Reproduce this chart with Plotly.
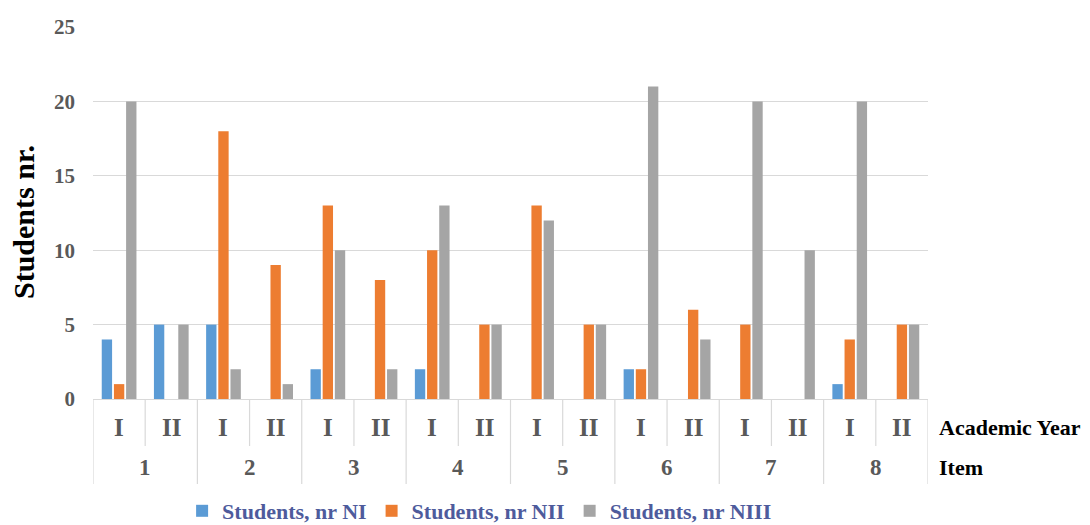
import plotly.graph_objects as go

# Survey counts per item and academic year
items = ["1", "2", "3", "4", "5", "6", "7", "8"]
years = ["I", "II"]

students_ni = [4, 5, 5, 0, 2, 0, 2, 0, 0, 0, 2, 0, 0, 0, 1, 0]
students_nii = [1, 0, 18, 9, 13, 8, 10, 5, 13, 5, 2, 6, 5, 0, 4, 5]
students_niii = [20, 5, 2, 1, 10, 2, 13, 5, 12, 5, 21, 4, 20, 10, 20, 5]

series_names = ["Students, nr NI", "Students, nr NII", "Students, nr NIII"]
series_colors = ["#5B9BD5", "#ED7D31", "#A5A5A5"]

y_ticks = [0, 5, 10, 15, 20, 25]

# one category per (item, year) pair
categories = [f"{it}-{yr}" for it in items for yr in years]

SERIF = "Liberation Serif"
GRID = "#D9D9D9"
TICK_COLOR = "#595959"

fig = go.Figure()
for name, color, vals in zip(series_names, series_colors,
                             [students_ni, students_nii, students_niii]):
    fig.add_trace(go.Bar(x=categories, y=vals, name=name,
                         marker=dict(color=color, line=dict(width=0))))

# plot area geometry (px) used to place the hierarchical labels below the axis
H, W = 525, 1090
M_L, M_R, M_T, M_B = 93, 162, 27, 126
plot_h = H - M_T - M_B


def py(px_y):
    """convert a page y pixel to paper coordinates"""
    return (H - M_B - px_y) / plot_h


# year labels and item labels
annotations = []
for i, cat in enumerate(categories):
    annotations.append(dict(x=i, y=py(427), xref="x", yref="paper",
                            text=years[i % 2], showarrow=False,
                            font=dict(family=SERIF, size=25, color=TICK_COLOR,
                                      weight="bold"),
                            xanchor="center", yanchor="middle"))
for j, it in enumerate(items):
    annotations.append(dict(x=2 * j + 0.5, y=py(467), xref="x", yref="paper",
                            text=it, showarrow=False,
                            font=dict(family=SERIF, size=23, color=TICK_COLOR,
                                      weight="bold"),
                            xanchor="center", yanchor="middle"))

# row captions on the right
annotations.append(dict(x=1, y=py(427), xref="paper", yref="paper", xshift=9,
                        text="Academic Year", showarrow=False,
                        font=dict(family=SERIF, size=22, color="#000000",
                                  weight="bold"),
                        xanchor="left", yanchor="middle"))
annotations.append(dict(x=1, y=py(467), xref="paper", yref="paper", xshift=9,
                        text="Item", showarrow=False,
                        font=dict(family=SERIF, size=22, color="#000000",
                                  weight="bold"),
                        xanchor="left", yanchor="middle"))

# y axis title
annotations.append(dict(x=0, y=py(222), xref="paper", yref="paper", xshift=-70,
                        text="Students nr.", showarrow=False, textangle=-90,
                        font=dict(family=SERIF, size=30, color="#000000",
                                  weight="bold"),
                        xanchor="center", yanchor="middle"))

# divider lines between categories: long between items, short between years
shapes = []
for k in range(len(categories) + 1):
    long_line = (k % 2 == 0)
    shapes.append(dict(type="line", xref="x", yref="paper",
                       x0=k - 0.5, x1=k - 0.5, y0=0,
                       y1=py(484) if long_line else py(446),
                       line=dict(color=GRID, width=1.2)))

fig.update_layout(
    width=W, height=H,
    margin=dict(l=M_L, r=M_R, t=M_T, b=M_B, autoexpand=False),
    plot_bgcolor="white", paper_bgcolor="white",
    barmode="group", bargap=0.3, bargroupgap=0.15,
    showlegend=True,
    legend=dict(orientation="h", x=0.463, xanchor="center",
                y=py(511), yanchor="middle",
                font=dict(family=SERIF, size=22, color="#4E5B9C",
                          weight="bold"),
                itemwidth=30, traceorder="normal", borderwidth=0,
                bgcolor="rgba(0,0,0,0)"),
    annotations=annotations,
    shapes=shapes,
    xaxis=dict(type="category", showticklabels=False, showgrid=False,
               showline=False, zeroline=False, ticks="",
               range=[-0.5, len(categories) - 0.5]),
    yaxis=dict(range=[0, 25], tickvals=y_ticks, showgrid=True,
               gridcolor=GRID, gridwidth=1.2, zeroline=True,
               zerolinecolor=GRID, zerolinewidth=1.2, showline=False,
               ticks="", ticklabelstandoff=17,
               tickfont=dict(family=SERIF, size=21, color=TICK_COLOR,
                             weight="bold")),
)

fig.write_html("out.html")
